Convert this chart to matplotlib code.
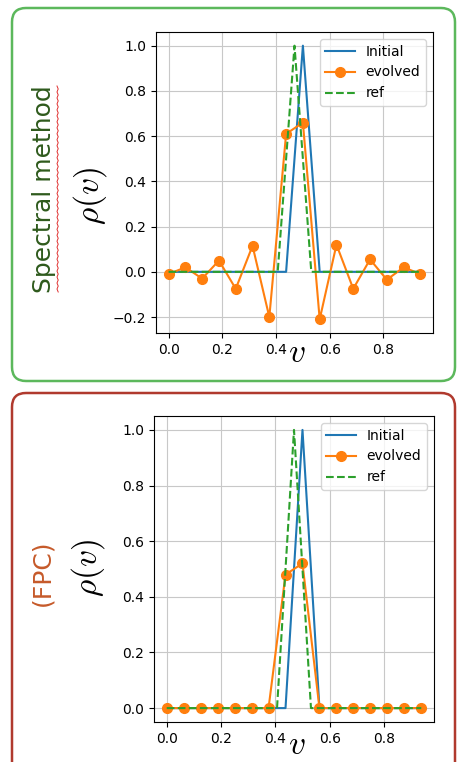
import numpy as np
import matplotlib.pyplot as plt
from matplotlib.patches import FancyBboxPatch
from matplotlib.transforms import IdentityTransform

plt.rcParams['mathtext.fontset'] = 'cm'

# velocity grid and the three curves for each solver
v = np.arange(16) / 16
rho_initial = [0, 0, 0, 0, 0, 0, 0, 0, 1, 0, 0, 0, 0, 0, 0, 0]
v_ref = [0.0, 0.40625, 0.46875, 0.53125, 0.9375]
rho_ref = [0, 0, 1, 0, 0]
rho_spectral = [-0.01, 0.02, -0.03, 0.05, -0.075, 0.115, -0.2, 0.61,
                0.66, -0.21, 0.12, -0.075, 0.055, -0.035, 0.02, -0.01]
rho_fpc = [0, 0, 0, 0, 0, 0, 0, 0.48, 0.52, 0, 0, 0, 0, 0, 0, 0]
xticks = [0.0, 0.2, 0.4, 0.6, 0.8]

W, H = 457, 762
fig = plt.figure(figsize=(W / 100, H / 100), dpi=100)


def px_axes(left, top, right, bottom):
    return fig.add_axes([left / W, 1 - bottom / H, (right - left) / W, (bottom - top) / H])


def draw_panel(ax, evolved, yticks):
    ax.plot(v, rho_initial, color='#1f77b4', label='Initial')
    ax.plot(v, evolved, color='#ff7f0e', marker='o', markersize=7, label='evolved')
    ax.plot(v_ref, rho_ref, color='#2ca02c', linestyle='--', label='ref')
    ax.set_xticks(xticks)
    ax.set_yticks(yticks)
    ax.tick_params(labelsize=10)
    ax.grid(True, color='#c8c8c8')
    ax.legend(loc='upper right', fontsize=10, handlelength=2.1)


# outlined boxes around each panel (pixel coordinates, y from the top)
for (x0, y0, x1, y1, col) in [(12, 8, 455, 381, '#5cb85c'), (12, 393, 455, 790, '#b03a2e')]:
    box = FancyBboxPatch((x0, H - y1), x1 - x0, y1 - y0,
                         boxstyle='round,pad=0,rounding_size=14',
                         transform=IdentityTransform(), facecolor='none',
                         edgecolor=col, linewidth=1.8, clip_on=False)
    fig.patches.append(box)

ax1 = px_axes(156, 32, 433, 333)
draw_panel(ax1, rho_spectral, [-0.2, 0.0, 0.2, 0.4, 0.6, 0.8, 1.0])
ax2 = px_axes(154, 416, 434, 722)
draw_panel(ax2, rho_fpc, [0.0, 0.2, 0.4, 0.6, 0.8, 1.0])

# side labels
fig.text(44 / W, 1 - 189 / H, 'Spectral method', rotation=90, color='#2e5a1c',
         fontsize=18, ha='center', va='center')
zig_y = np.linspace(86, 292, 70)
zig_x = 57 + 1.2 * (np.arange(70) % 2)
fig.lines.append(plt.Line2D(zig_x / W, 1 - zig_y / H, transform=fig.transFigure,
                            color='#e03030', linewidth=0.7))
fig.text(90 / W, 1 - 196 / H, r'$\rho(v)$', rotation=90, fontsize=24,
         ha='center', va='center')
fig.text(297 / W, 1 - 352 / H, r'$v$', fontsize=24, ha='center', va='center')

fig.text(42 / W, 1 - 573 / H, '(FPC)', rotation=90, color='#c65a2a',
         fontsize=18, ha='center', va='center')
fig.text(88 / W, 1 - 568 / H, r'$\rho(v)$', rotation=90, fontsize=24,
         ha='center', va='center')
fig.text(297 / W, 1 - 745 / H, r'$v$', fontsize=24, ha='center', va='center')

fig.savefig('out.png', dpi=100)
